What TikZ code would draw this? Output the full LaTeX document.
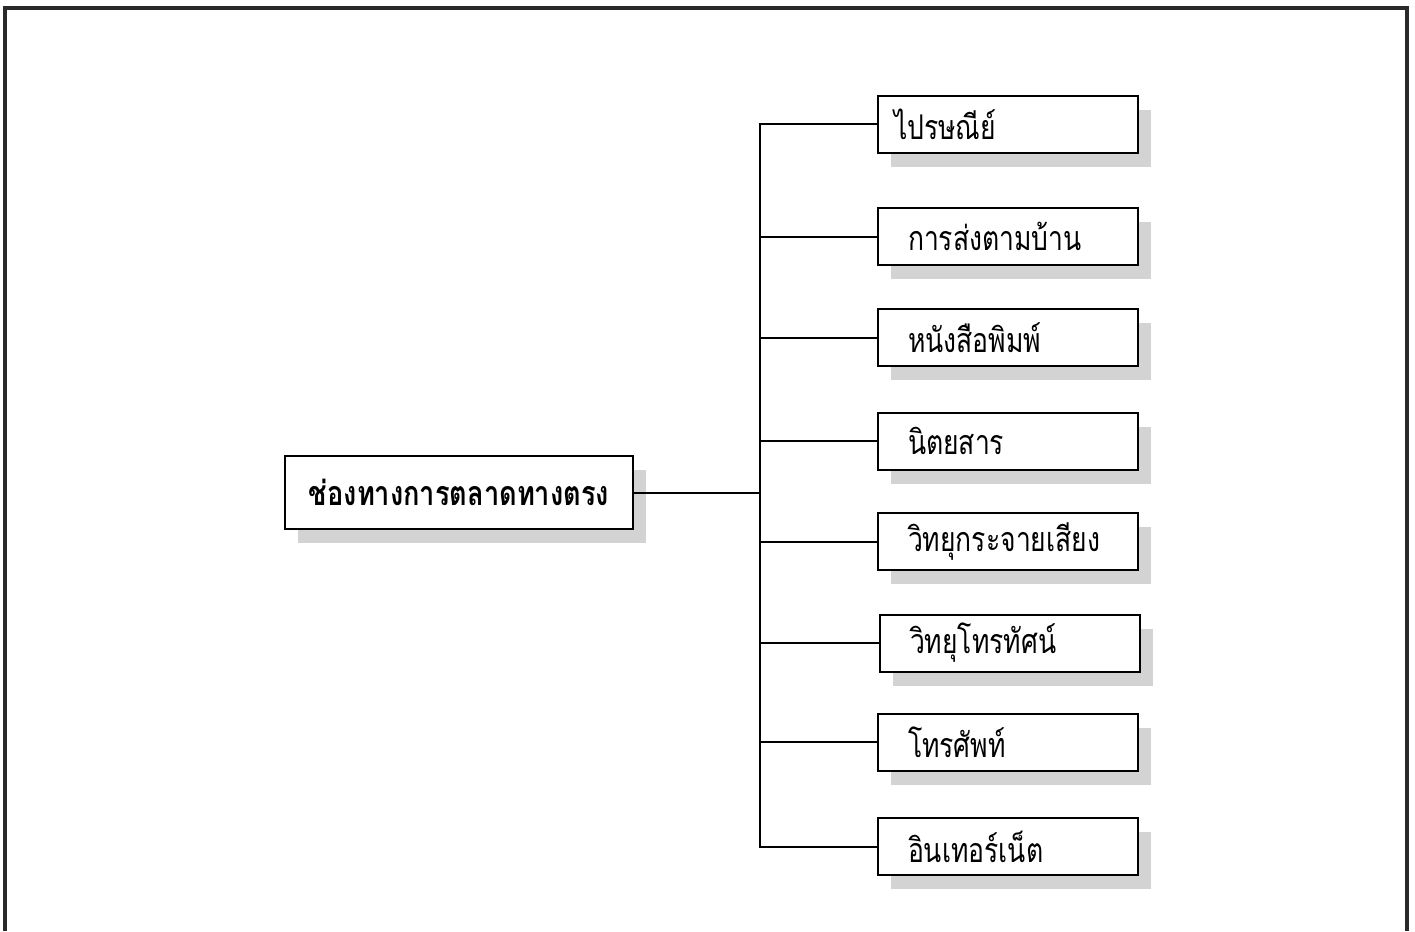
\documentclass[tikz,border=0pt]{standalone}
\usepackage{fontspec}
\newfontfamily\thaifont[Script=Thai, FakeStretch=0.78, BoldFeatures={FakeStretch=0.8}]{Loma}
\usetikzlibrary{shadows}
\definecolor{framegray}{HTML}{2A2A2A}
\definecolor{shadowgray}{HTML}{D3D3D3}
\tikzset{
  boxshadow/.style={drop shadow={shadow xshift=13pt, shadow yshift=-14pt, fill=shadowgray, opacity=1}},
  rootbox/.style={draw=black, line width=2pt, fill=white, boxshadow,
    minimum width=348pt, minimum height=73pt, inner sep=0pt,
    font=\thaifont\bfseries\fontsize{34}{40}\selectfont},
  leafbox/.style={draw=black, line width=2pt, fill=white, boxshadow,
    inner xsep=30pt, text width=200pt, align=left, minimum height=57pt, inner ysep=0pt,
    font=\thaifont\fontsize{34}{40}\selectfont},
  link/.style={draw=black, line width=2pt}
}
\begin{document}
\begin{tikzpicture}[x=1pt,y=-1pt]
\useasboundingbox (0,0) rectangle (1415,931);
% open outer frame
\draw[framegray, line width=4pt] (4.5,931) -- (4.5,8) -- (1406.5,8) -- (1406.5,931);

\node[rootbox] (root) at (459,492.5) {ช่องทางการตลาดทางตรง};
\coordinate (trunk) at (760,492.5);

\node[leafbox, inner xsep=16pt, text width=228pt] (b1) at (1008,124.5) {ไปรษณีย์};
\node[leafbox] (b2) at (1008,236.5) {การส่งตามบ้าน};
\node[leafbox] (b3) at (1008,337.5) {หนังสือพิมพ์};
\node[leafbox] (b4) at (1008,441) {นิตยสาร};
\node[leafbox] (b5) at (1008,541.5) {วิทยุกระจายเสียง};
\node[leafbox] (b6) at (1010,643) {วิทยุโทรทัศน์};
\node[leafbox] (b7) at (1008,742) {โทรศัพท์};
\node[leafbox] (b8) at (1008,846.5) {อินเทอร์เน็ต};

\draw[link] (root.east) -- (trunk);
\foreach \b in {b1,b2,b3,b4,b5,b6,b7,b8}
  \draw[link] (\b.west) -| (trunk);
\end{tikzpicture}
\end{document}
